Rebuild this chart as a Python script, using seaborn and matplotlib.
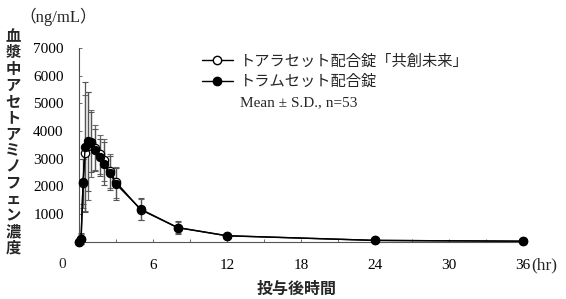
import numpy as np
import pandas as pd
import matplotlib
matplotlib.use("Agg")
import matplotlib.pyplot as plt
from matplotlib.lines import Line2D
import seaborn as sns

# ---- data ----
times = [0, 0.17, 0.33, 0.5, 0.75, 1, 1.33, 1.67, 2, 2.5, 3, 5, 8, 12, 24, 36]
tram_mean = [0, 100, 2170, 3430, 3620, 3600, 3320, 3050, 2810, 2490, 2080, 1170, 505, 210, 40, 10]
tram_sd   = [0, 200, 800, 2350, 1800, 1080, 760, 670, 780, 620, 580, 400, 220, 70, 20, 5]
toa_mean  = [0, 80, 2100, 3200, 3450, 3550, 3400, 3150, 2950, 2550, 2150, 1150, 500, 205, 40, 10]
toa_sd    = [0, 180, 900, 2100, 1950, 1200, 800, 700, 750, 600, 560, 390, 210, 70, 20, 5]
labels = ["トアラセット配合錠「共創未来」", "トラムセット配合錠"]
note = "Mean ± S.D., n=53"
xticks = [6, 12, 18, 24, 30, 36]
yticks = [1000, 2000, 3000, 4000, 5000, 6000, 7000]
ylabel_chars = "血漿中アセトアミノフェン濃度"
xlabel = "投与後時間"

sns.set_theme(style="white")
plt.rcParams['font.family'] = ['Liberation Serif', 'Noto Sans CJK JP']

df_toa = pd.DataFrame({"t": times, "c": toa_mean, "sd": toa_sd})
df_tram = pd.DataFrame({"t": times, "c": tram_mean, "sd": tram_sd})

fig = plt.figure(figsize=(5.66, 2.99), dpi=100)
ax = fig.add_axes([79/566, 1-241.5/299, (523-79)/566, (241.5-48)/299])

# error bars
ax.errorbar(df_toa["t"], df_toa["c"], yerr=df_toa["sd"], fmt="none", ecolor="#6a6a6a",
            elinewidth=0.9, capsize=2, capthick=0.8, zorder=2, clip_on=False)
ax.errorbar(df_tram["t"], df_tram["c"], yerr=df_tram["sd"], fmt="none", ecolor="#555555",
            elinewidth=0.9, capsize=2, capthick=0.8, zorder=2, clip_on=False)

sns.lineplot(data=df_toa, x="t", y="c", ax=ax, color="black", lw=1.0, marker="o",
             markersize=6, markerfacecolor="white", markeredgecolor="black",
             markeredgewidth=0.9, zorder=3, clip_on=False)
sns.lineplot(data=df_tram, x="t", y="c", ax=ax, color="black", lw=1.0, marker="o",
             markersize=6, markerfacecolor="black", markeredgecolor="black",
             zorder=4, clip_on=False)

ax.set_xlim(0, 36)
ax.set_ylim(0, 7000)
ax.set_xticks(xticks)
ax.set_xticks(np.arange(0, 37, 3), minor=True)
ax.set_yticks(yticks)
ax.tick_params(axis="both", which="both", direction="in", length=2.5, width=0.6,
               color="#555555", labelsize=11, colors="black")
ax.tick_params(axis="x", pad=12.5, bottom=True)
ax.tick_params(axis="y", pad=11, left=True)
ax.tick_params(axis="x", which="minor", bottom=True, length=2.5)
for s in ["top", "right"]:
    ax.spines[s].set_visible(False)
for s in ["left", "bottom"]:
    ax.spines[s].set_color("#555555")
    ax.spines[s].set_linewidth(0.8)
ax.set_xlabel("")
ax.set_ylabel("")
ax.set_facecolor("white")

# origin, units
fig.text(62/566, 1-265/299, "0", ha="center", va="center", fontsize=11)
fig.text(531/566, 1-265/299, "(hr)", ha="left", va="center", fontsize=12.5)
fig.text(19/566, 1-17/299, "（ng/mL）", ha="left", va="center", fontsize=12)

# axis labels (Japanese, bold gothic)
for i, ch in enumerate(ylabel_chars):
    fig.text(13/566, 1-(36+i*16.3)/299, ch, ha="center", va="center", fontsize=11,
             fontweight="bold", family=["Noto Sans CJK JP"])
fig.text(297/566, 1-289/299, xlabel, ha="center", va="center", fontsize=11.5,
         fontweight="bold", family=["Noto Sans CJK JP"])

# legend
h1 = Line2D([], [], color="black", lw=1.0, marker="o", markersize=6,
            markerfacecolor="white", markeredgecolor="black")
h2 = Line2D([], [], color="black", lw=1.0, marker="o", markersize=6,
            markerfacecolor="black", markeredgecolor="black")
h3 = Line2D([], [], color="none", lw=0)
leg = fig.legend([h1, h2, h3], labels + [note], loc="upper left",
                 bbox_to_anchor=(202/566, 1-54/299), frameon=False, fontsize=11,
                 handlelength=2.0, handletextpad=0.5, labelspacing=0.4,
                 borderaxespad=0, borderpad=0)

fig.savefig("out.png", dpi=100, facecolor="white")
